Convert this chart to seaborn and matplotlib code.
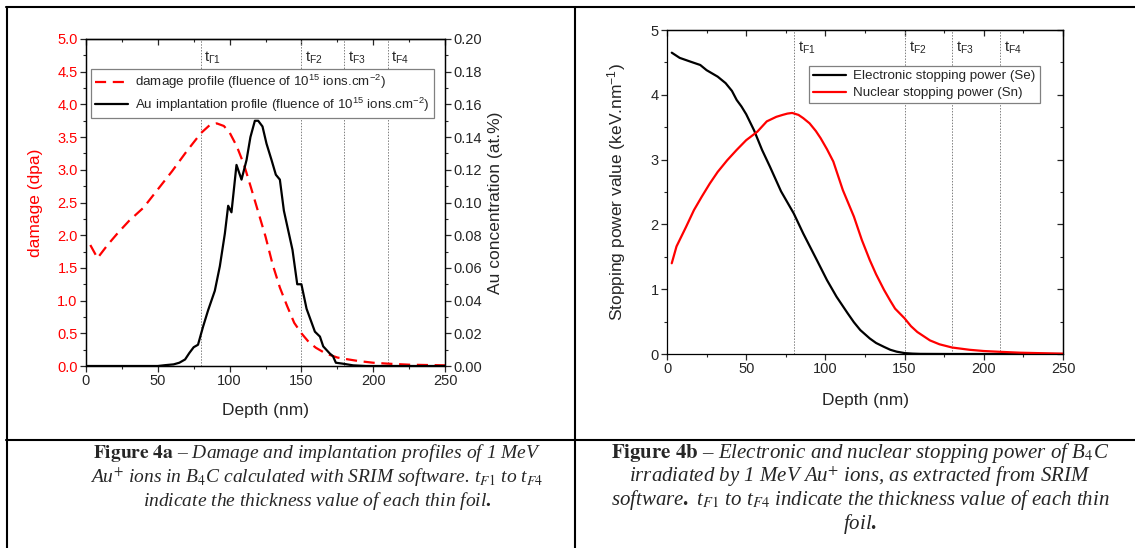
import numpy as np
import pandas as pd
import matplotlib
matplotlib.use('Agg')
import matplotlib.pyplot as plt
import seaborn as sns
from matplotlib.ticker import MultipleLocator, FormatStrFormatter
from matplotlib.lines import Line2D

sns.set_style('ticks')
plt.rcParams['font.family'] = ['Liberation Sans', 'DejaVu Sans']
plt.rcParams['mathtext.fontset'] = 'custom'
plt.rcParams['mathtext.rm'] = 'Liberation Sans'
plt.rcParams['mathtext.it'] = 'Liberation Sans:italic'
plt.rcParams['mathtext.bf'] = 'Liberation Sans:bold'
plt.rcParams['axes.edgecolor'] = 'black'
plt.rcParams['axes.linewidth'] = 0.9

# ---- Figure 4a data (SRIM) ----
damage_depth = [3, 8, 15, 22, 30, 40, 50, 60, 70, 80, 86, 91, 96, 100, 105, 110, 115,
                120, 125, 130, 135, 140, 145, 150, 155, 160, 167, 175, 180, 190, 200,
                210, 225, 250]
damage_dpa = [1.85, 1.65, 1.85, 2.03, 2.22, 2.42, 2.70, 2.98, 3.28, 3.56, 3.68, 3.71,
              3.67, 3.57, 3.36, 3.08, 2.72, 2.35, 1.98, 1.55, 1.20, 0.92, 0.66, 0.50,
              0.37, 0.28, 0.19, 0.13, 0.11, 0.075, 0.05, 0.036, 0.02, 0.01]

au_depth = [0, 50, 55, 61, 65, 69, 72, 75, 78, 81.5, 85, 89.7, 93.2, 96.7, 99, 101.3,
            104.8, 108.3, 111.8, 114.5, 117.6, 119.9, 122.9, 125.7, 129.2, 132.2, 135,
            137.8, 143.8, 147.1, 150, 153.6, 159.4, 162.9, 165.2, 169.8, 172, 174, 179,
            186, 195, 250]
au_conc = [0, 0, 0.0005, 0.001, 0.002, 0.004, 0.008, 0.0115, 0.013, 0.024, 0.034, 0.046,
           0.061, 0.081, 0.098, 0.094, 0.123, 0.114, 0.126, 0.140, 0.150, 0.150, 0.1465,
           0.136, 0.126, 0.117, 0.114, 0.095, 0.071, 0.050, 0.050, 0.035, 0.021, 0.018,
           0.012, 0.0076, 0.006, 0.002, 0.0014, 0.0004, 0, 0]

# ---- Figure 4b data ----
se_depth = [3, 8, 15, 21, 25, 32, 37, 41, 44, 47, 50, 55, 60, 65, 72, 80, 86, 95, 101,
            107, 114, 118, 122, 128, 132, 137, 141, 145, 150, 155, 160, 180, 250]
se_value = [4.65, 4.57, 4.51, 4.46, 4.38, 4.28, 4.18, 4.06, 3.92, 3.82, 3.70, 3.45, 3.15,
            2.89, 2.51, 2.17, 1.86, 1.43, 1.14, 0.885, 0.63, 0.49, 0.37, 0.24, 0.17,
            0.11, 0.065, 0.036, 0.014, 0.006, 0.002, 0, 0]

sn_depth = [3, 6, 12, 17, 22, 27, 32, 38, 44, 50, 57, 63, 69, 73, 76, 79, 83, 86, 90,
            94, 97, 101, 105, 111, 118, 123, 128, 132, 137, 141, 144, 150, 154, 158,
            166, 172, 180, 191, 200, 210, 223, 250]
sn_value = [1.40, 1.66, 1.96, 2.22, 2.43, 2.63, 2.81, 2.99, 3.15, 3.30, 3.43, 3.59, 3.66,
            3.69, 3.71, 3.72, 3.69, 3.64, 3.56, 3.44, 3.33, 3.16, 2.97, 2.53, 2.12, 1.76,
            1.45, 1.23, 0.99, 0.82, 0.70, 0.55, 0.43, 0.34, 0.21, 0.15, 0.10, 0.065,
            0.046, 0.034, 0.02, 0.005]

foil_depths = [80, 150, 180, 210]
foil_labels_a = [r't$_{\mathrm{\Gamma1}}$', r't$_{\mathrm{F2}}$', r't$_{\mathrm{F3}}$', r't$_{\mathrm{F4}}$']
foil_labels_b = [r't$_{\mathrm{F1}}$', r't$_{\mathrm{F2}}$', r't$_{\mathrm{F3}}$', r't$_{\mathrm{F4}}$']

caption_a = [r'$\mathbf{Figure\ 4a}$ – Damage and implantation profiles of 1 MeV',
             r'Au$^{+}$ ions in B$_{\mathit{4}}$C calculated with SRIM software. t$_{\mathit{F1}}$ to t$_{\mathit{F4}}$',
             r'indicate the thickness value of each thin foil$\mathbf{.}$']
caption_b = [r'$\mathbf{Figure\ 4b}$ – Electronic and nuclear stopping power of B$_{\mathit{4}}$C',
             r'irradiated by 1 MeV Au$^{+}$ ions, as extracted from SRIM',
             r'software$\mathbf{.}$ t$_{\mathit{F1}}$ to t$_{\mathit{F4}}$ indicate the thickness value of each thin',
             r'foil$\mathbf{.}$']

RED = '#ff0000'
TICK_FS = 10.5
LAB_FS = 12.5
LEG_FS = 9.6

W, H = 1135, 548
fig = plt.figure(figsize=(W / 100, H / 100), dpi=100)


def px_axes(l, t, r, b):
    return fig.add_axes([l / W, 1 - b / H, (r - l) / W, (b - t) / H])


def style_ticks(ax, xmaj, xmin, ymaj, ymin, mirror_y=True):
    ax.xaxis.set_major_locator(MultipleLocator(xmaj))
    ax.xaxis.set_minor_locator(MultipleLocator(xmin))
    ax.yaxis.set_major_locator(MultipleLocator(ymaj))
    ax.yaxis.set_minor_locator(MultipleLocator(ymin))
    ax.tick_params(which='major', direction='out', length=4, width=0.9, labelsize=TICK_FS, pad=2)
    ax.tick_params(which='minor', direction='out', length=2.5, width=0.8)
    top = ax.secondary_xaxis('top')
    top.xaxis.set_major_locator(MultipleLocator(xmaj))
    top.xaxis.set_minor_locator(MultipleLocator(xmin))
    top.tick_params(which='major', direction='in', length=4, width=0.9, labeltop=False)
    top.tick_params(which='minor', direction='in', length=2.5, width=0.8)
    if mirror_y:
        right = ax.secondary_yaxis('right')
        right.yaxis.set_major_locator(MultipleLocator(ymaj))
        right.yaxis.set_minor_locator(MultipleLocator(ymin))
        right.tick_params(which='major', direction='in', length=4, width=0.9, labelright=False)
        right.tick_params(which='minor', direction='in', length=2.5, width=0.8)
    for s in ax.spines.values():
        s.set_visible(True)


def foil_lines(ax, labels):
    for d, lab in zip(foil_depths, labels):
        ax.axvline(d, color='#808080', lw=0.7, ls=(0, (1.5, 1.5)), zorder=1)
        ax.text(d + 2.5, 4.72, lab, fontsize=10.5, ha='left', va='center')


# ---------------- Figure 4a ----------------
ax_a = px_axes(86, 39, 445, 366)
dmg = pd.DataFrame({'depth': damage_depth, 'dpa': damage_dpa})
sns.lineplot(data=dmg, x='depth', y='dpa', ax=ax_a, color=RED, lw=1.6,
             linestyle=(0, (5, 3)), label=r'damage profile (fluence of 10$^{15}$ ions.cm$^{-2}$)')
ax_a.set_xlim(0, 250)
ax_a.set_ylim(0, 5)
style_ticks(ax_a, 50, 25, 0.5, 0.25, mirror_y=False)
ax_a.tick_params(axis='y', labelcolor=RED)
ax_a.yaxis.set_major_formatter(FormatStrFormatter('%.1f'))
foil_lines(ax_a, foil_labels_a)
ax_a.set_xlabel('Depth (nm)', fontsize=LAB_FS)
ax_a.set_ylabel('damage (dpa)', fontsize=LAB_FS, color=RED)
ax_a.xaxis.set_label_coords(0.5, -0.113)
ax_a.yaxis.set_label_coords(-0.12, 0.5)

ax_au = ax_a.twinx()
au = pd.DataFrame({'depth': au_depth, 'conc': au_conc})
sns.lineplot(data=au, x='depth', y='conc', ax=ax_au, color='black', lw=1.6,
             label=r'Au implantation profile (fluence of 10$^{15}$ ions.cm$^{-2}$)')
ax_au.set_ylim(0, 0.2)
ax_au.yaxis.set_major_locator(MultipleLocator(0.02))
ax_au.yaxis.set_minor_locator(MultipleLocator(0.01))
ax_au.yaxis.set_major_formatter(FormatStrFormatter('%.2f'))
ax_au.tick_params(which='major', direction='out', length=4, width=0.9, labelsize=TICK_FS, pad=2)
ax_au.tick_params(which='minor', direction='out', length=2.5, width=0.8)
ax_au.set_ylabel('Au concentration (at.%)', fontsize=LAB_FS)
ax_au.yaxis.set_label_coords(1.12, 0.5)

h1, l1 = ax_a.get_legend_handles_labels()
h2, l2 = ax_au.get_legend_handles_labels()
ax_a.legend().remove()
leg = ax_au.legend(h1 + h2, l1 + l2, loc='upper left', bbox_to_anchor=(0.014, 0.908),
                   borderaxespad=0, fontsize=LEG_FS, fancybox=False, framealpha=1,
                   edgecolor='#808080', handlelength=2.5, handletextpad=0.5,
                   borderpad=0.3, labelspacing=0.35)
leg.get_frame().set_linewidth(0.9)

# ---------------- Figure 4b ----------------
ax_b = px_axes(667, 30, 1063, 354)
se = pd.DataFrame({'depth': se_depth, 'value': se_value})
sn = pd.DataFrame({'depth': sn_depth, 'value': sn_value})
sns.lineplot(data=se, x='depth', y='value', ax=ax_b, color='black', lw=1.6,
             label='Electronic stopping power (Se)')
sns.lineplot(data=sn, x='depth', y='value', ax=ax_b, color=RED, lw=1.6,
             label='Nuclear stopping power (Sn)')
ax_b.set_xlim(0, 250)
ax_b.set_ylim(0, 5)
style_ticks(ax_b, 50, 25, 1, 0.5)
foil_lines(ax_b, foil_labels_b)
ax_b.set_xlabel('Depth (nm)', fontsize=LAB_FS)
ax_b.set_ylabel(r'Stopping power value (keV.nm$^{-1}$)', fontsize=LAB_FS)
ax_b.xaxis.set_label_coords(0.5, -0.12)
ax_b.yaxis.set_label_coords(-0.098, 0.5)
leg_b = ax_b.legend(loc='upper left', bbox_to_anchor=(0.359, 0.889), borderaxespad=0,
                    fontsize=LEG_FS, fancybox=False, framealpha=1, edgecolor='#808080',
                    handlelength=2.5, handletextpad=0.5, borderpad=0.3, labelspacing=0.35)
leg_b.get_frame().set_linewidth(0.9)

# ---------------- table borders and captions ----------------
lw_border = 1.5
for x in (7, 574.5):
    fig.add_artist(Line2D([x / W, x / W], [0, 1 - 7 / H], transform=fig.transFigure,
                          color='black', lw=lw_border))
for y in (7, 440):
    fig.add_artist(Line2D([6 / W, 1], [1 - y / H, 1 - y / H], transform=fig.transFigure,
                          color='black', lw=lw_border))

cap_kw = dict(family=['Liberation Serif', 'DejaVu Serif'], style='italic',
              ha='center', va='center', math_fontfamily='stix')
for i, line in enumerate(caption_a):
    fig.text(317 / W, 1 - (453 + 24 * i) / H, line, fontsize=14, **cap_kw)
for i, line in enumerate(caption_b):
    fig.text(860 / W, 1 - (453 + 23.5 * i) / H, line, fontsize=15, **cap_kw)

fig.savefig('out.png', dpi=100)
